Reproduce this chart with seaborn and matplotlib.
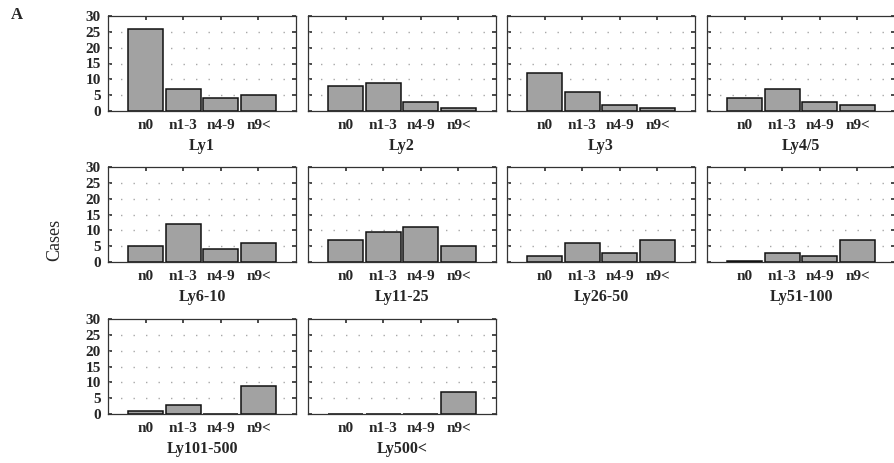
import matplotlib
matplotlib.use('Agg')
import matplotlib.pyplot as plt
import pandas as pd
import seaborn as sns

# data
categories = ['n0', 'n1-3', 'n4-9', 'n9<']
panel_titles = ['Ly1', 'Ly2', 'Ly3', 'Ly4/5',
                'Ly6-10', 'Ly11-25', 'Ly26-50', 'Ly51-100',
                'Ly101-500', 'Ly500<']
cases_ly1 = [26, 7, 4, 5]
cases_ly2 = [8, 9, 3, 1]
cases_ly3 = [12, 6, 2, 1]
cases_ly45 = [4, 7, 3, 2]
cases_ly6_10 = [5, 12, 4, 6]
cases_ly11_25 = [7, 9.5, 11, 5]
cases_ly26_50 = [2, 6, 3, 7]
cases_ly51_100 = [0.3, 3, 2, 7]
cases_ly101_500 = [1, 3, 0, 9]
cases_ly500 = [0, 0, 0, 7]
y_ticks = [0, 5, 10, 15, 20, 25, 30]

all_cases = [cases_ly1, cases_ly2, cases_ly3, cases_ly45,
             cases_ly6_10, cases_ly11_25, cases_ly26_50, cases_ly51_100,
             cases_ly101_500, cases_ly500]

sns.set_theme(style='white')
plt.rcParams['font.family'] = ['Liberation Serif', 'DejaVu Serif']

W, H = 894, 463
fig = plt.figure(figsize=(W / 100, H / 100), dpi=100)

col_left = [108, 308, 507, 707]
row_top = [16, 167, 319]
ax_w, ax_h = 188, 95

for k, (title, vals) in enumerate(zip(panel_titles, all_cases)):
    r, c = divmod(k, 4)
    ax = fig.add_axes([col_left[c] / W, 1 - (row_top[r] + ax_h) / H, ax_w / W, ax_h / H])
    df = pd.DataFrame({'cat': categories, 'cases': vals})
    sns.barplot(data=df, x='cat', y='cases', ax=ax, color='#a2a2a2', saturation=1,
                edgecolor='#111111', linewidth=1.1, width=0.94, zorder=3)
    ax.set_xlim(-1.0, 4.0)
    ax.set_ylim(0, 30)
    ax.set_yticks(y_ticks)
    for yv in y_ticks[1:-1]:
        ax.axhline(yv, color='#a8a8a8', lw=1.0, ls=(0, (1, 8)), zorder=1)
    for s in ax.spines.values():
        s.set_color('#333333')
        s.set_linewidth(0.9)
    ax.tick_params(axis='y', direction='in', length=3, left=True, right=True,
                   labelsize=11, pad=5, color='#333333')
    ax.tick_params(axis='x', direction='in', length=3, bottom=False, top=True,
                   labelsize=11, pad=6, color='#333333')
    for lab in ax.get_xticklabels() + ax.get_yticklabels():
        lab.set_fontweight('bold')
    if c != 0:
        ax.set_yticklabels([])
    ax.set_ylabel('')
    ax.set_xlabel(title, fontsize=11.5, fontweight='bold', labelpad=4)

fig.text(55 / W, 1 - 240 / H, 'Cases', rotation=90, ha='center', va='center', fontsize=13)
fig.text(17 / W, 1 - 15 / H, 'A', ha='center', va='center', fontsize=12, fontweight='bold')

fig.savefig('out.png', dpi=100, facecolor='white')
